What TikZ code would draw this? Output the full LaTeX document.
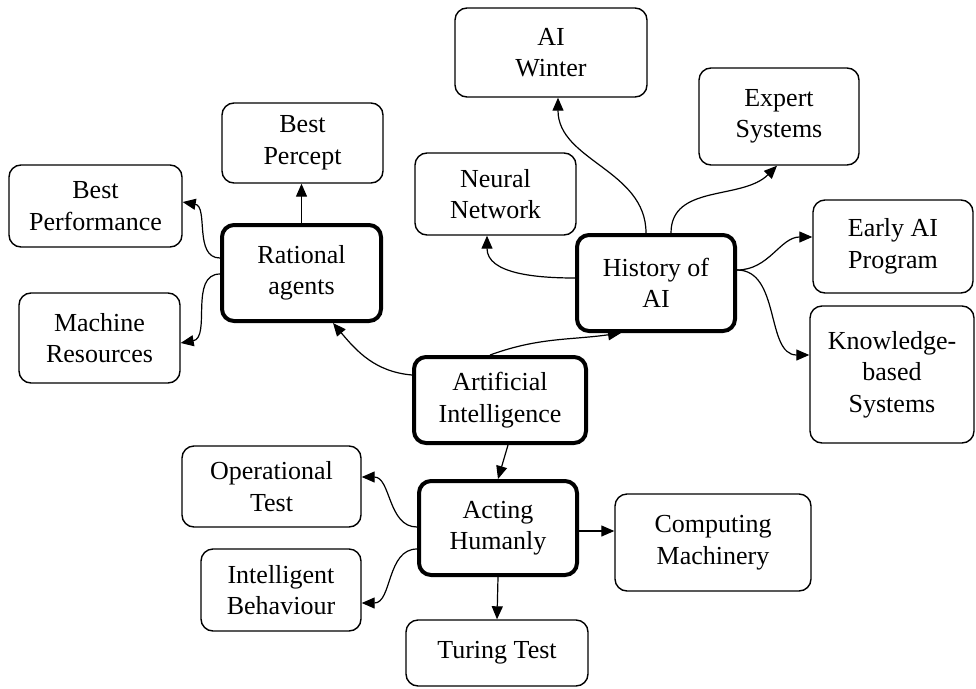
\documentclass[tikz,border=0pt]{standalone}
\usepackage{fontspec}
\setmainfont{Liberation Serif}
\usetikzlibrary{arrows.meta}
\begin{document}
\begin{tikzpicture}[x=1pt,y=-1pt,
  box/.style={draw, rounded corners=12pt, line width=1.4pt, align=center, inner sep=0pt,
              font=\fontsize{26}{31.5}\selectfont},
  tbox/.style={box, line width=4pt},
  conn/.style={line width=1.2pt, -{Triangle[length=13pt,width=11pt]}}]
\useasboundingbox (0,0) rectangle (976,688);
% nodes
\node[box, minimum width=192pt, minimum height=89pt] (aiw) at (551,52.5) {AI\\Winter};
\node[box, minimum width=160pt, minimum height=97pt] (es) at (779,116.5) {Expert\\Systems};
\node[box, minimum width=161pt, minimum height=80pt] (bp) at (302.5,143) {Best\\Percept};
\node[box, minimum width=173pt, minimum height=82pt] (bpf) at (95.5,206) {Best\\Performance};
\node[box, minimum width=161pt, minimum height=82pt] (nn) at (495.5,194) {Neural\\Network};
\node[box, minimum width=160pt, minimum height=93pt] (eap) at (893,246.5) {Early AI\\Program};
\node[tbox, minimum width=159pt, minimum height=96pt] (ra) at (301.5,273) {Rational\\agents};
\node[tbox, minimum width=158pt, minimum height=96pt] (hai) at (656,283) {History of\\AI};
\node[box, minimum width=161pt, minimum height=90pt] (mr) at (99.5,338) {Machine\\Resources};
\node[box, minimum width=164pt, minimum height=137pt] (kbs) at (892,374.5) {Knowledge-\\based\\Systems};
\node[tbox, minimum width=172pt, minimum height=86pt] (ai) at (500,400) {Artificial\\Intelligence};
\node[box, minimum width=179pt, minimum height=81pt] (ot) at (271.5,486.5) {Operational\\Test};
\node[tbox, minimum width=158pt, minimum height=94pt] (ah) at (498,528) {Acting\\Humanly};
\node[box, minimum width=196pt, minimum height=97pt] (cm) at (713,542.5) {Computing\\Machinery};
\node[box, minimum width=160pt, minimum height=82pt] (ib) at (281,590) {Intelligent\\Behaviour};
\node[box, minimum width=182pt, minimum height=66pt] (tt) at (497,653) {Turing Test};
% connectors
\draw[conn] (ra.north) -- (ra.north |- bp.south);
\draw[conn] ([yshift=15pt]ra.west) to[out=180,in=-10] ([yshift=4pt]bpf.east);
\draw[conn] ([yshift=-1pt]ra.west) to[out=180,in=10] ([yshift=-5pt]mr.east);
\draw[conn] ([yshift=5pt]hai.west) to[out=180,in=-90] ([xshift=-8.5pt]nn.south);
\draw[conn] ([xshift=-10pt]hai.north) to[out=90,in=-90] ([xshift=7pt]aiw.south);
\draw[conn] ([xshift=15pt]hai.north) to[out=90,in=-135] ([xshift=-2pt]es.south);
\draw[conn] ([yshift=13pt]hai.east) to[out=0,in=180] ([yshift=9.5pt]eap.west);
\draw[conn] ([yshift=13pt]hai.east) to[out=0,in=180] ([yshift=19.5pt]kbs.west);
\draw[conn] ([yshift=25pt]ai.west) to[out=175,in=-50] ([xshift=31.5pt]ra.south);
\draw[conn] ([xshift=-10pt]ai.north) to[out=20,in=188] ([xshift=-35pt]hai.south);
\draw[conn] ([xshift=8pt]ai.south) -- (ah.north);
\draw[conn] ([yshift=1pt]ah.west) to[out=180,in=0] ([yshift=9.5pt]ot.east);
\draw[conn] ([yshift=-21pt]ah.west) to[out=180,in=0] ([yshift=-13pt]ib.east);
\draw[conn] (ah.south) -- (tt.north);
\draw[conn] ([yshift=-3pt]ah.east) -- ([yshift=-3pt]ah.east -| cm.west);
\end{tikzpicture}
\end{document}
